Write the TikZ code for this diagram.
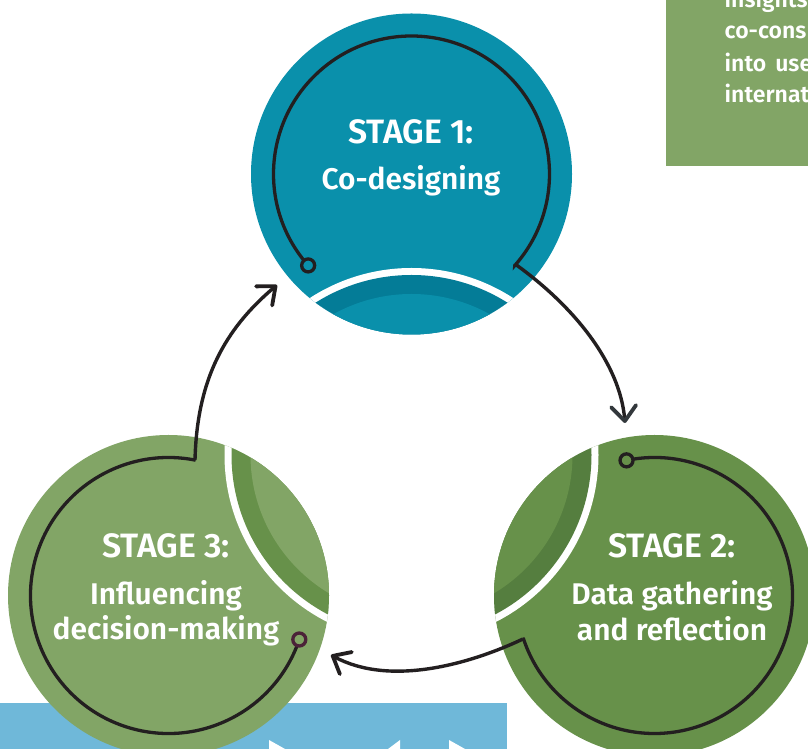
\documentclass[tikz,border=0pt]{standalone}
\usepackage{fontspec}
\setmainfont{Fira Sans}
\newfontfamily\dinlike{Fira Sans SemiBold}
\usetikzlibrary{arrows.meta,calc}
\definecolor{tealmain}{HTML}{0A90AB}
\definecolor{tealdark}{HTML}{047C97}
\definecolor{greenmain}{HTML}{67914A}
\definecolor{greendark}{HTML}{557E3F}
\definecolor{sagemain}{HTML}{82A566}
\definecolor{ink}{HTML}{231F20}
\definecolor{headgrey}{HTML}{33383C}
\definecolor{plum}{HTML}{4B2238}
\definecolor{skyblue}{HTML}{6FB8D9}
\tikzset{
  ringline/.style={draw=ink,line width=3.3pt},
  flow/.style={draw=ink,line width=3.4pt,line join=miter},
  barb/.style={-{Straight Barb[length=15pt,width=25pt,round,line width=3.8pt,#1]}},
  dotmark/.style={circle,draw=ink,line width=3.3pt,inner sep=0pt,minimum size=13pt},
  stagehead/.style={text=white,anchor=base,inner sep=0pt,font=\fontsize{33.8}{34}\selectfont\dinlike},
  stagebody/.style={text=white,anchor=base,inner sep=0pt,font=\fontsize{29.9}{30}\selectfont\dinlike},
  boxtext/.style={text=white,anchor=base west,inner sep=0pt,font=\fontsize{23}{23}\selectfont\dinlike},
}
\begin{document}
\begin{tikzpicture}[x=1pt,y=1pt]
\useasboundingbox (0,0) rectangle (808,749);
\clip (0,0) rectangle (808,749);
\fill[white] (0,0) rectangle (808,749);
\coordinate (c1) at (411.5,575);
\coordinate (c2) at (654.5,153.5);
\coordinate (c3) at (168.5,153.5);
\coordinate (hub) at (411.5,294);
% background panels
\fill[skyblue] (0,0) rectangle (507,46);
\fill[white] (269,9) -- (285,0) -- (269,0) -- cycle;
\fill[white] (400,9) -- (388,0) -- (400,0) -- cycle;
\fill[white] (449,9) -- (465,0) -- (449,0) -- cycle;
\fill[sagemain] (666,582.5) rectangle (808,749);
\node[boxtext] (b1) at (724.5,741) {insights};
\node[boxtext] (b2) at (724.5,710) {co-cons};
\node[boxtext] (b3) at (724.5,677) {into\hspace{9pt}use};
\node[boxtext] (b4) at (724.5,646) {internat};
% discs with lens cut by rings round the hub
\foreach \c/\m/\d in {c1/tealmain/tealdark,c2/greenmain/greendark,c3/sagemain/greenmain}{
  \fill[\m] (\c) circle (160.5);
  \begin{scope}
    \clip (\c) circle (160.5);
    \fill[white] (hub) circle (187);
    \fill[\d] (hub) circle (180);
    \fill[\m] (hub) circle (161);
  \end{scope}
}
% line work
\coordinate (s1) at ($(c1)+(221.5:138)$);
\coordinate (k1) at (515,485);
\coordinate (t1) at (625,326);
\coordinate (s2) at ($(c2)+(101.7:138)$);
\coordinate (k2) at (523,110);
\coordinate (t2) at (331,94);
\coordinate (s3) at ($(c3)+(-18.6:138)$);
\coordinate (k3) at (195,289);
\coordinate (t3) at (277,464);
\draw[ringline] (s1) arc[start angle=221.5,end angle=-41.5,radius=138] -- (k1);
\draw[ringline] (s2) arc[start angle=101.7,end angle=-161.6,radius=138] -- (k2);
\draw[ringline] (s3) arc[start angle=-18.6,end angle=-281.3,radius=138] -- (k3);
\draw[flow,barb={color=headgrey}] (k1) .. controls (575,442) and (620,385) .. (t1);
\draw[flow,barb={}] (k2) .. controls (470,85) and (390,62) .. (t2);
\draw[flow,barb={}] (k3) .. controls (197,370) and (225,420) .. (t3);
\node[dotmark,fill=tealmain] (d1) at (s1) {};
\node[dotmark,fill=greenmain] (d2) at (s2) {};
\node[dotmark,fill=sagemain,draw=plum] (d3) at (s3) {};
% labels
\node[stagehead] (h1) at (411,605) {STAGE 1:};
\node[stagebody] (l1) at (411,559) {Co-designing};
\node[stagehead] (h2) at (672,191) {STAGE 2:};
\node[stagebody] (l2a) at (672,144.5) {Data gathering};
\node[stagebody] (l2b) at (672,108.5) {and reflection};
\node[stagehead] (h3) at (166,191) {STAGE 3:};
\node[stagebody] (l3a) at (166,144) {Influencing};
\node[stagebody] (l3b) at (166,109) {decision-making};
\end{tikzpicture}
\end{document}
